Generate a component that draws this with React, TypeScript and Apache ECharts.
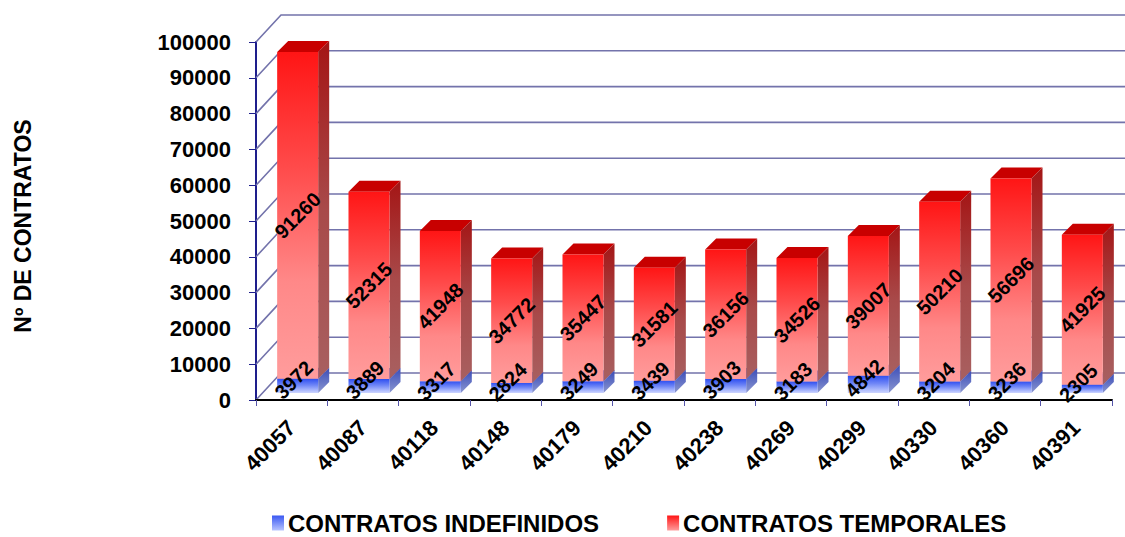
import React, { useEffect, useRef } from "react";
import * as echarts from "echarts";

const categories = ["40057", "40087", "40118", "40148", "40179", "40210", "40238", "40269", "40299", "40330", "40360", "40391"];
const indefinidos = [3972, 3889, 3317, 2824, 3249, 3439, 3903, 3183, 4842, 3204, 3236, 2305];
const temporales = [91260, 52315, 41948, 34772, 35447, 31581, 36156, 34526, 39007, 50210, 56696, 41925];
const yTicks = [0, 10000, 20000, 30000, 40000, 50000, 60000, 70000, 80000, 90000, 100000];

const FONT = "'Liberation Sans', Arial, sans-serif";
const WALL_DX = 25;
const WALL_DY = -27;
const BAR_OX = 6;
const BAR_OY = -7;
const BAR_D = 11;

const grad = (stops: [number, string][]) =>
  new echarts.graphic.LinearGradient(0, 0, 0, 1, stops.map(([offset, color]) => ({ offset, color })));

const blueFront = () => grad([[0, "#2f4ff0"], [0.45, "#6f86f7"], [1, "#cdd5ff"]]);
const blueSide = () => grad([[0, "#3a4cb8"], [1, "#8a96d0"]]);
const blueTop = "#2a44d0";
const redFront = () => grad([[0, "#ff1515"], [0.35, "#ff4a4a"], [0.7, "#ff8888"], [1, "#ff9c9c"]]);
const redSide = () => grad([[0, "#a41515"], [0.5, "#a84a4a"], [1, "#a86060"]]);
const redTop = "#c80000";

function makeBarRender(kind: "ind" | "temp") {
  return (params: any, api: any) => {
    const i = api.value(0);
    const b = api.value(1);
    const t = api.value(2);
    const p0 = api.coord([i, b]);
    const p1 = api.coord([i, t]);
    const band = api.size([1, 0])[0];
    const w = band * 0.575;
    const cx = p0[0] + BAR_OX;
    const xl = cx - w / 2;
    const xr = xl + w;
    const yb = p0[1] + BAR_OY;
    const yt = p1[1] + BAR_OY;
    const d = BAR_D;
    const isInd = kind === "ind";
    const children: any[] = [
      {
        type: "polygon",
        shape: { points: [[xl, yt], [xl + d, yt - d], [xr + d, yt - d], [xr, yt]] },
        style: { fill: isInd ? blueTop : redTop },
      },
      {
        type: "polygon",
        shape: { points: [[xr, yt], [xr + d, yt - d], [xr + d, yb - d], [xr, yb]] },
        style: { fill: isInd ? blueSide() : redSide() },
      },
      {
        type: "rect",
        shape: { x: xl, y: yt, width: w, height: yb - yt },
        style: { fill: isInd ? blueFront() : redFront() },
      },
    ];
    return { type: "group", children };
  };
}

function makeLabelRender(kind: "ind" | "temp") {
  return (params: any, api: any) => {
    const i = api.value(0);
    const b = api.value(1);
    const t = api.value(2);
    const p0 = api.coord([i, b]);
    const p1 = api.coord([i, t]);
    const cx = p0[0] + BAR_OX;
    const yb = p0[1] + BAR_OY;
    const yt = p1[1] + BAR_OY;
    const isInd = kind === "ind";
    return {
      type: "text",
      x: cx + (isInd ? -4 : 0),
      y: (yt + yb) / 2 + (isInd ? -6 : 0),
      rotation: Math.PI / 4,
      style: {
        text: String(Math.round(t - b)),
        fill: "#000",
        font: `bold 20px ${FONT}`,
        align: "center",
        verticalAlign: "middle",
      },
    };
  };
}

function wallRender(params: any, api: any) {
  const v = api.value(1);
  const p = api.coord([0, v]);
  const pr = api.coord([categories.length - 1, v]);
  const band = api.size([1, 0])[0];
  const left = p[0] - band / 2;
  const right = pr[0] + band / 2;
  const y = p[1];
  return {
    type: "polyline",
    shape: { points: [[left, y], [left + WALL_DX, y + WALL_DY], [right + WALL_DX, y + WALL_DY]] },
    style: { stroke: "#7373ab", lineWidth: 1.6, fill: "none" },
    silent: true,
  };
}

export default function App() {
  const ref = useRef<HTMLDivElement>(null);
  useEffect(() => {
    if (!ref.current) return;
    const chart = echarts.init(ref.current, undefined, { renderer: "svg" });
    const indData = indefinidos.map((v, i) => [i, 0, v]);
    const tempData = temporales.map((v, i) => [i, indefinidos[i], indefinidos[i] + v]);
    chart.setOption({
      animation: false,
      backgroundColor: "#ffffff",
      grid: { left: 256, right: 13, top: 42, bottom: 137 },
      legend: {
        data: [
          { name: "CONTRATOS INDEFINIDOS", icon: "rect" },
          { name: "CONTRATOS TEMPORALES", icon: "rect" },
        ],
        left: 272,
        top: 511,
        padding: 0,
        itemWidth: 12,
        itemHeight: 15,
        itemGap: 68,
        textStyle: { fontFamily: FONT, fontWeight: "bold", fontSize: 24, color: "#000", padding: [0, 0, 0, -1] },
      },
      xAxis: {
        type: "category",
        data: categories,
        boundaryGap: true,
        axisLine: { show: true, lineStyle: { color: "#000", width: 2 } },
        axisTick: { show: true, length: 6, lineStyle: { color: "#5555a8" } },
        axisLabel: {
          rotate: 45,
          margin: 24,
          fontFamily: FONT,
          fontWeight: "bold",
          fontSize: 22,
          color: "#000",
        },
        splitLine: { show: false },
        z: 10,
      },
      yAxis: {
        type: "value",
        min: 0,
        max: 100000,
        interval: 10000,
        name: "Nº DE CONTRATOS",
        nameLocation: "middle",
        nameRotate: 90,
        nameGap: 222,
        nameTextStyle: { fontFamily: FONT, fontWeight: "bold", fontSize: 23, color: "#000", padding: [0, 10, 0, 0] },
        axisLine: { show: true, lineStyle: { color: "#1e1e8c", width: 2 } },
        axisTick: { show: true, length: 7, lineStyle: { color: "#1e1e8c" } },
        axisLabel: {
          margin: 25,
          fontFamily: FONT,
          fontWeight: "bold",
          fontSize: 22,
          color: "#000",
          formatter: (v: number) => String(v),
        },
        splitLine: { show: false },
      },
      series: [
        {
          name: "wall",
          type: "custom",
          renderItem: wallRender,
          data: yTicks.map((v) => [0, v]),
          silent: true,
          z: 1,
        },
        {
          name: "CONTRATOS INDEFINIDOS",
          type: "custom",
          renderItem: makeBarRender("ind"),
          data: indData,
          itemStyle: { color: grad([[0, "#3a58f2"], [1, "#b8c4ff"]]) },
          z: 2,
        },
        {
          name: "CONTRATOS TEMPORALES",
          type: "custom",
          renderItem: makeBarRender("temp"),
          data: tempData,
          itemStyle: { color: grad([[0, "#ff1515"], [1, "#ff9c9c"]]) },
          z: 3,
        },
        {
          name: "labels-ind",
          type: "custom",
          renderItem: makeLabelRender("ind"),
          data: indData,
          silent: true,
          z: 5,
        },
        {
          name: "labels-temp",
          type: "custom",
          renderItem: makeLabelRender("temp"),
          data: tempData,
          silent: true,
          z: 5,
        },
      ],
    });
    return () => chart.dispose();
  }, []);
  return <div ref={ref} style={{ position: "fixed", left: 0, top: 0, width: 1125, height: 537 }} />;
}
